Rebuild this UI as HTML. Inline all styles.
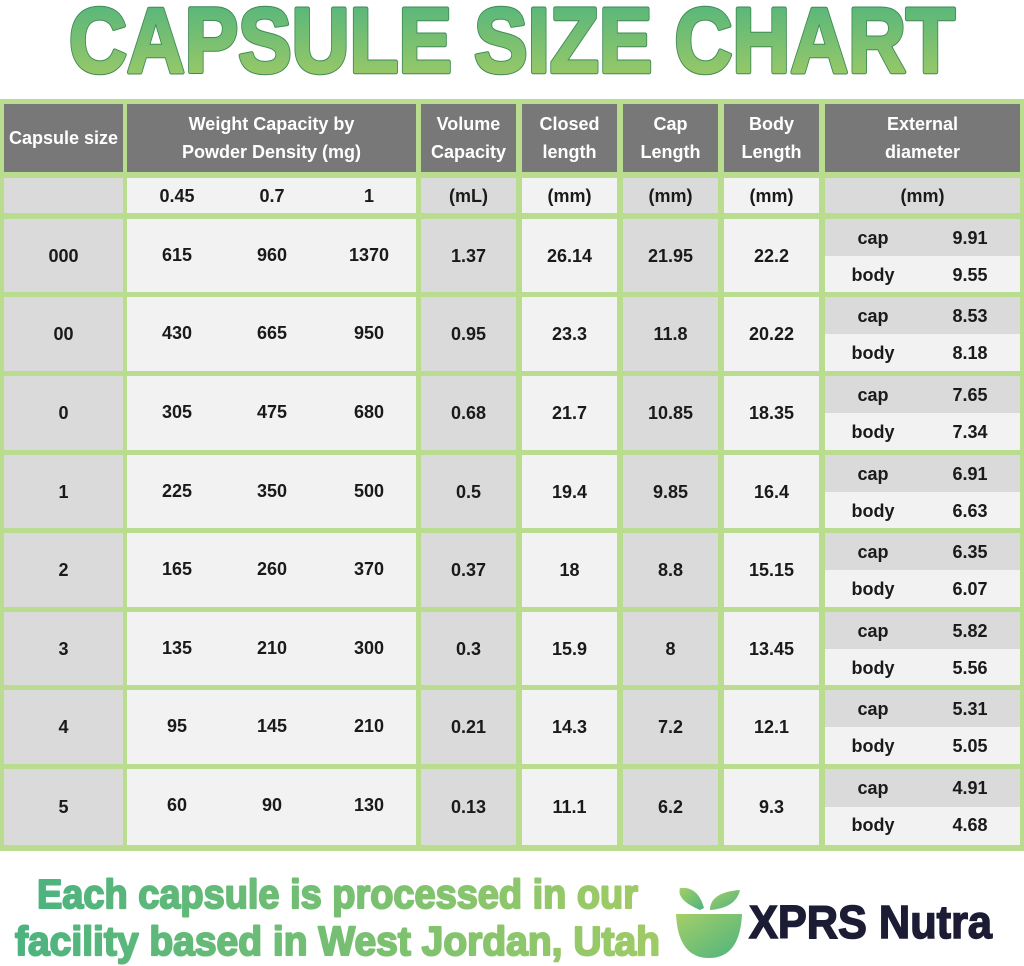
<!DOCTYPE html>
<html><head><meta charset="utf-8">
<style>
body{margin:0;width:1024px;height:966px;background:#fff;position:relative;overflow:hidden;font-family:"Liberation Sans",Arial,sans-serif}
.g{position:absolute;left:0;top:99px;width:1024px;height:752px;background:#b9dc8e}
.c{position:absolute;display:flex;align-items:center;justify-content:center;font-weight:bold;font-size:18px;color:#1a1a1a;text-align:center;line-height:28px}
.h{background:#787878;color:#fff}
.d{background:#dadada}
.l{background:#f2f2f2}
.s{position:absolute;font-weight:bold;font-size:18px;color:#1a1a1a;transform:translateX(-50%);white-space:nowrap}
</style></head><body>
<svg width="1024" height="99" style="position:absolute;left:0;top:0">
<defs><linearGradient id="tg" x1="0" y1="0" x2="0" y2="1"><stop offset="0" stop-color="#4cb37f"/><stop offset="1" stop-color="#a6cc63"/></linearGradient></defs>
<text x="69" y="72" font-family="Liberation Sans" font-weight="bold" font-size="92" fill="#3f8a55" stroke="#3f8a55" stroke-width="4.5" stroke-linejoin="round" textLength="886" lengthAdjust="spacingAndGlyphs">CAPSULE SIZE CHART</text>
<text x="69" y="72" font-family="Liberation Sans" font-weight="bold" font-size="92" fill="url(#tg)" stroke="url(#tg)" stroke-width="2.5" stroke-linejoin="round" textLength="886" lengthAdjust="spacingAndGlyphs">CAPSULE SIZE CHART</text>
</svg>
<div class="g"></div>
<!-- header -->
<div class="c h" style="left:4px;top:104px;width:119px;height:68px">Capsule size</div>
<div class="c h" style="left:127px;top:104px;width:289px;height:68px">Weight Capacity by<br>Powder Density (mg)</div>
<div class="c h" style="left:421px;top:104px;width:95px;height:68px">Volume<br>Capacity</div>
<div class="c h" style="left:522px;top:104px;width:95px;height:68px">Closed<br>length</div>
<div class="c h" style="left:623px;top:104px;width:95px;height:68px">Cap<br>Length</div>
<div class="c h" style="left:724px;top:104px;width:95px;height:68px">Body<br>Length</div>
<div class="c h" style="left:825px;top:104px;width:195px;height:68px">External<br>diameter</div>
<!-- units -->
<div class="c d" style="left:4px;top:178px;width:119px;height:35px"></div>
<div class="c l" style="left:127px;top:178px;width:289px;height:35px"></div>
<span class="s" style="left:177px;top:186px">0.45</span><span class="s" style="left:272px;top:186px">0.7</span><span class="s" style="left:369px;top:186px">1</span>
<div class="c d" style="left:421px;top:178px;width:95px;height:35px">(mL)</div>
<div class="c l" style="left:522px;top:178px;width:95px;height:35px">(mm)</div>
<div class="c d" style="left:623px;top:178px;width:95px;height:35px">(mm)</div>
<div class="c l" style="left:724px;top:178px;width:95px;height:35px">(mm)</div>
<div class="c d" style="left:825px;top:178px;width:195px;height:35px">(mm)</div>

<!-- rows -->
<div style="position:absolute;left:0;top:219px">
<div class="c d" style="left:4px;top:0;width:119px;height:73px">000</div>
<div class="c l" style="left:127px;top:0;width:289px;height:73px"></div>
<span class="s" style="left:177px;top:26px">615</span><span class="s" style="left:272px;top:26px">960</span><span class="s" style="left:369px;top:26px">1370</span>
<div class="c d" style="left:421px;top:0;width:95px;height:73px">1.37</div>
<div class="c l" style="left:522px;top:0;width:95px;height:73px">26.14</div>
<div class="c d" style="left:623px;top:0;width:95px;height:73px">21.95</div>
<div class="c l" style="left:724px;top:0;width:95px;height:73px">22.2</div>
<div class="c d" style="left:825px;top:0;width:195px;height:37px"></div>
<div class="c l" style="left:825px;top:37px;width:195px;height:36px"></div>
<span class="s" style="left:873px;top:9px">cap</span><span class="s" style="left:970px;top:9px">9.91</span>
<span class="s" style="left:873px;top:46px">body</span><span class="s" style="left:970px;top:46px">9.55</span>
</div>

<div style="position:absolute;left:0;top:297px">
<div class="c d" style="left:4px;top:0;width:119px;height:74px">00</div>
<div class="c l" style="left:127px;top:0;width:289px;height:74px"></div>
<span class="s" style="left:177px;top:26px">430</span><span class="s" style="left:272px;top:26px">665</span><span class="s" style="left:369px;top:26px">950</span>
<div class="c d" style="left:421px;top:0;width:95px;height:74px">0.95</div>
<div class="c l" style="left:522px;top:0;width:95px;height:74px">23.3</div>
<div class="c d" style="left:623px;top:0;width:95px;height:74px">11.8</div>
<div class="c l" style="left:724px;top:0;width:95px;height:74px">20.22</div>
<div class="c d" style="left:825px;top:0;width:195px;height:37px"></div>
<div class="c l" style="left:825px;top:37px;width:195px;height:37px"></div>
<span class="s" style="left:873px;top:9px">cap</span><span class="s" style="left:970px;top:9px">8.53</span>
<span class="s" style="left:873px;top:46px">body</span><span class="s" style="left:970px;top:46px">8.18</span>
</div>

<div style="position:absolute;left:0;top:376px">
<div class="c d" style="left:4px;top:0;width:119px;height:74px">0</div>
<div class="c l" style="left:127px;top:0;width:289px;height:74px"></div>
<span class="s" style="left:177px;top:26px">305</span><span class="s" style="left:272px;top:26px">475</span><span class="s" style="left:369px;top:26px">680</span>
<div class="c d" style="left:421px;top:0;width:95px;height:74px">0.68</div>
<div class="c l" style="left:522px;top:0;width:95px;height:74px">21.7</div>
<div class="c d" style="left:623px;top:0;width:95px;height:74px">10.85</div>
<div class="c l" style="left:724px;top:0;width:95px;height:74px">18.35</div>
<div class="c d" style="left:825px;top:0;width:195px;height:37px"></div>
<div class="c l" style="left:825px;top:37px;width:195px;height:37px"></div>
<span class="s" style="left:873px;top:9px">cap</span><span class="s" style="left:970px;top:9px">7.65</span>
<span class="s" style="left:873px;top:46px">body</span><span class="s" style="left:970px;top:46px">7.34</span>
</div>

<div style="position:absolute;left:0;top:455px">
<div class="c d" style="left:4px;top:0;width:119px;height:73px">1</div>
<div class="c l" style="left:127px;top:0;width:289px;height:73px"></div>
<span class="s" style="left:177px;top:26px">225</span><span class="s" style="left:272px;top:26px">350</span><span class="s" style="left:369px;top:26px">500</span>
<div class="c d" style="left:421px;top:0;width:95px;height:73px">0.5</div>
<div class="c l" style="left:522px;top:0;width:95px;height:73px">19.4</div>
<div class="c d" style="left:623px;top:0;width:95px;height:73px">9.85</div>
<div class="c l" style="left:724px;top:0;width:95px;height:73px">16.4</div>
<div class="c d" style="left:825px;top:0;width:195px;height:37px"></div>
<div class="c l" style="left:825px;top:37px;width:195px;height:36px"></div>
<span class="s" style="left:873px;top:9px">cap</span><span class="s" style="left:970px;top:9px">6.91</span>
<span class="s" style="left:873px;top:46px">body</span><span class="s" style="left:970px;top:46px">6.63</span>
</div>

<div style="position:absolute;left:0;top:533px">
<div class="c d" style="left:4px;top:0;width:119px;height:74px">2</div>
<div class="c l" style="left:127px;top:0;width:289px;height:74px"></div>
<span class="s" style="left:177px;top:26px">165</span><span class="s" style="left:272px;top:26px">260</span><span class="s" style="left:369px;top:26px">370</span>
<div class="c d" style="left:421px;top:0;width:95px;height:74px">0.37</div>
<div class="c l" style="left:522px;top:0;width:95px;height:74px">18</div>
<div class="c d" style="left:623px;top:0;width:95px;height:74px">8.8</div>
<div class="c l" style="left:724px;top:0;width:95px;height:74px">15.15</div>
<div class="c d" style="left:825px;top:0;width:195px;height:37px"></div>
<div class="c l" style="left:825px;top:37px;width:195px;height:37px"></div>
<span class="s" style="left:873px;top:9px">cap</span><span class="s" style="left:970px;top:9px">6.35</span>
<span class="s" style="left:873px;top:46px">body</span><span class="s" style="left:970px;top:46px">6.07</span>
</div>

<div style="position:absolute;left:0;top:612px">
<div class="c d" style="left:4px;top:0;width:119px;height:73px">3</div>
<div class="c l" style="left:127px;top:0;width:289px;height:73px"></div>
<span class="s" style="left:177px;top:26px">135</span><span class="s" style="left:272px;top:26px">210</span><span class="s" style="left:369px;top:26px">300</span>
<div class="c d" style="left:421px;top:0;width:95px;height:73px">0.3</div>
<div class="c l" style="left:522px;top:0;width:95px;height:73px">15.9</div>
<div class="c d" style="left:623px;top:0;width:95px;height:73px">8</div>
<div class="c l" style="left:724px;top:0;width:95px;height:73px">13.45</div>
<div class="c d" style="left:825px;top:0;width:195px;height:37px"></div>
<div class="c l" style="left:825px;top:37px;width:195px;height:36px"></div>
<span class="s" style="left:873px;top:9px">cap</span><span class="s" style="left:970px;top:9px">5.82</span>
<span class="s" style="left:873px;top:46px">body</span><span class="s" style="left:970px;top:46px">5.56</span>
</div>

<div style="position:absolute;left:0;top:690px">
<div class="c d" style="left:4px;top:0;width:119px;height:74px">4</div>
<div class="c l" style="left:127px;top:0;width:289px;height:74px"></div>
<span class="s" style="left:177px;top:26px">95</span><span class="s" style="left:272px;top:26px">145</span><span class="s" style="left:369px;top:26px">210</span>
<div class="c d" style="left:421px;top:0;width:95px;height:74px">0.21</div>
<div class="c l" style="left:522px;top:0;width:95px;height:74px">14.3</div>
<div class="c d" style="left:623px;top:0;width:95px;height:74px">7.2</div>
<div class="c l" style="left:724px;top:0;width:95px;height:74px">12.1</div>
<div class="c d" style="left:825px;top:0;width:195px;height:37px"></div>
<div class="c l" style="left:825px;top:37px;width:195px;height:37px"></div>
<span class="s" style="left:873px;top:9px">cap</span><span class="s" style="left:970px;top:9px">5.31</span>
<span class="s" style="left:873px;top:46px">body</span><span class="s" style="left:970px;top:46px">5.05</span>
</div>

<div style="position:absolute;left:0;top:769px">
<div class="c d" style="left:4px;top:0;width:119px;height:76px">5</div>
<div class="c l" style="left:127px;top:0;width:289px;height:76px"></div>
<span class="s" style="left:177px;top:26px">60</span><span class="s" style="left:272px;top:26px">90</span><span class="s" style="left:369px;top:26px">130</span>
<div class="c d" style="left:421px;top:0;width:95px;height:76px">0.13</div>
<div class="c l" style="left:522px;top:0;width:95px;height:76px">11.1</div>
<div class="c d" style="left:623px;top:0;width:95px;height:76px">6.2</div>
<div class="c l" style="left:724px;top:0;width:95px;height:76px">9.3</div>
<div class="c d" style="left:825px;top:0;width:195px;height:38px"></div>
<div class="c l" style="left:825px;top:38px;width:195px;height:38px"></div>
<span class="s" style="left:873px;top:9px">cap</span><span class="s" style="left:970px;top:9px">4.91</span>
<span class="s" style="left:873px;top:46px">body</span><span class="s" style="left:970px;top:46px">4.68</span>
</div>

<svg width="1024" height="116" style="position:absolute;left:0;top:850px">
<defs>
<linearGradient id="fg" x1="0" y1="0" x2="1" y2="0"><stop offset="0" stop-color="#4cb37f"/><stop offset="1" stop-color="#9fcb66"/></linearGradient>
<linearGradient id="lg" x1="0" y1="0" x2="1" y2="1"><stop offset="0" stop-color="#a5cf68"/><stop offset="1" stop-color="#4cb37f"/></linearGradient>
</defs>
<text x="37" y="58" font-family="Liberation Sans" font-weight="bold" font-size="41" fill="url(#fg)" stroke="url(#fg)" stroke-width="2" stroke-linejoin="round" textLength="601" lengthAdjust="spacingAndGlyphs">Each capsule is processed in our</text>
<text x="15" y="105" font-family="Liberation Sans" font-weight="bold" font-size="41" fill="url(#fg)" stroke="url(#fg)" stroke-width="2" stroke-linejoin="round" textLength="645" lengthAdjust="spacingAndGlyphs">facility based in West Jordan, Utah</text>
<path d="M676 64 L742 64 Q740 108 709 108 Q678 108 676 64 Z" fill="url(#lg)"/>
<path d="M700 60 Q676 50 680 38 Q698 36 704 58 Z" fill="url(#lg)"/>
<path d="M710 58 Q712 42 740 40 Q736 58 710 60 Z" fill="url(#lg)"/>
<text x="749" y="88" font-family="Liberation Sans" font-weight="bold" font-size="46" fill="#1c1c35" stroke="#1c1c35" stroke-width="1.5" textLength="243" lengthAdjust="spacingAndGlyphs">XPRS Nutra</text>
</svg>
</body></html>
